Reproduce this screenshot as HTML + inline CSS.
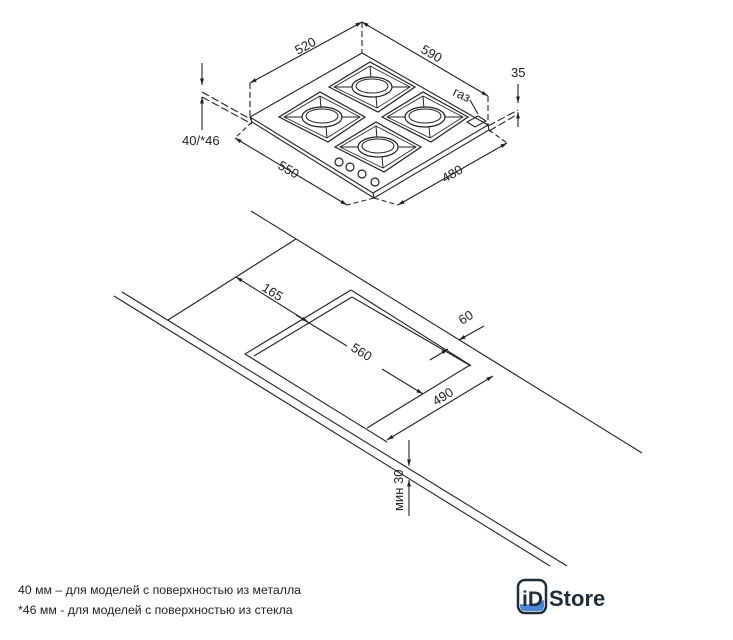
<!DOCTYPE html>
<html><head><meta charset="utf-8"><style>
html,body{margin:0;padding:0;background:#fff;}
body{width:733px;height:640px;position:relative;overflow:hidden;font-family:"Liberation Sans",sans-serif;}
svg{position:absolute;left:0;top:0;}
.t{font-family:"Liberation Sans",sans-serif;font-size:13px;fill:#222;}
</style></head><body>
<svg width="733" height="640" viewBox="0 0 733 640">
<defs>
<marker id="a" viewBox="0 0 10 10" refX="10" refY="5" markerWidth="6" markerHeight="6" orient="auto-start-reverse"><path d="M0,2 L10,5 L0,8z" fill="#222"/></marker>
<g id="burner">
<polygon points="-43,0 -2,-25 43,0 6,25" fill="none" stroke="#222" stroke-width="1.2"/>
<polygon points="-38,0 -2,-21 38,0 5,21" fill="none" stroke="#222" stroke-width="0.8"/>
<line x1="-2" y1="-21" x2="-1" y2="-8" stroke="#222"/><line x1="5" y1="21" x2="4" y2="9" stroke="#222"/>
<line x1="-38" y1="0" x2="-20" y2="0" stroke="#222"/><line x1="38" y1="0" x2="20" y2="0" stroke="#222"/>
<ellipse cx="0" cy="0" rx="20" ry="10" fill="#fff" stroke="#222" stroke-width="1.2"/>
<ellipse cx="0" cy="-1" rx="16" ry="7" fill="none" stroke="#222" stroke-width="1"/>
</g>
</defs>
<g stroke="#222" stroke-width="1.1" fill="none">
<polygon points="362,53 250,117 373,193 488,125"/>
<polyline points="250,117 252,122 374,198 489,130 488,125"/>
<line x1="373" y1="193" x2="374" y2="198"/>
<polygon points="467,122 478,116 486,121 475,127"/>
<line x1="470" y1="100" x2="478" y2="114"/>
<line x1="250" y1="83" x2="362" y2="22" marker-start="url(#a)" marker-end="url(#a)"/>
<line x1="362" y1="22" x2="488" y2="96" marker-start="url(#a)" marker-end="url(#a)"/>
<line x1="250" y1="83" x2="250" y2="117" stroke-dasharray="6,3"/>
<line x1="362" y1="22" x2="362" y2="53" stroke-dasharray="6,3"/>
<line x1="488" y1="96" x2="488" y2="125" stroke-dasharray="6,3"/>
<line x1="235" y1="138" x2="347" y2="205" marker-start="url(#a)" marker-end="url(#a)"/>
<line x1="398" y1="205" x2="507" y2="143" marker-start="url(#a)" marker-end="url(#a)"/>
<line x1="252" y1="122" x2="235" y2="138" stroke-dasharray="5,3"/>
<line x1="374" y1="198" x2="347" y2="205" stroke-dasharray="5,3"/>
<line x1="374" y1="198" x2="398" y2="205" stroke-dasharray="5,3"/>
<line x1="489" y1="130" x2="507" y2="143" stroke-dasharray="5,3"/>
<line x1="202" y1="63" x2="202" y2="85" marker-end="url(#a)"/>
<line x1="202" y1="130" x2="202" y2="97" marker-end="url(#a)"/>
<line x1="202" y1="92" x2="252" y2="120" stroke-dasharray="8,3"/>
<line x1="202" y1="97" x2="252" y2="124" stroke-dasharray="8,3"/>
<line x1="518" y1="84" x2="518" y2="103" marker-end="url(#a)"/>
<line x1="518" y1="127" x2="518" y2="112" marker-end="url(#a)"/>
<line x1="488" y1="126" x2="518" y2="110" stroke-dasharray="8,3"/>
<line x1="489" y1="131" x2="518" y2="114" stroke-dasharray="8,3"/>
</g>
<use href="#burner" x="372" y="87"/>
<use href="#burner" x="322" y="117"/>
<use href="#burner" x="425" y="117"/>
<use href="#burner" x="378" y="147"/>
<g fill="#fff" stroke="#222" stroke-width="1.2">
<circle cx="339" cy="162" r="4"/><circle cx="350" cy="167" r="4"/><circle cx="362" cy="174" r="4"/><circle cx="375" cy="182" r="4"/>
</g>
<g class="t">
<text transform="translate(298,55) rotate(-29)">520</text>
<text transform="translate(420,52) rotate(30)">590</text>
<text transform="translate(277,168) rotate(30)">550</text>
<text transform="translate(445,183) rotate(-30)">480</text>
<text transform="translate(452,95) rotate(25)">газ</text>
<text x="511" y="77">35</text>
<text x="182" y="145">40/*46</text>
</g>
<g stroke="#222" stroke-width="1.1" fill="none">
<line x1="251" y1="211" x2="642" y2="453"/>
<line x1="114" y1="296" x2="550" y2="566"/>
<line x1="122" y1="292" x2="567" y2="566"/>
<line x1="296" y1="239" x2="168" y2="320"/>
<polyline points="351,290 245,354 387,442"/>
<polyline points="351,290 470,365 367,428"/>
<polyline points="352,297 254,356"/>
<polyline points="352,297 471,366"/>
<line x1="236" y1="277" x2="308" y2="322" marker-start="url(#a)" marker-end="url(#a)"/>
<line x1="296" y1="315" x2="347" y2="346"/>
<line x1="382" y1="369" x2="423" y2="394" marker-end="url(#a)"/>
<line x1="484" y1="326" x2="459" y2="340" marker-end="url(#a)"/>
<line x1="430" y1="360" x2="448" y2="349" marker-end="url(#a)"/>
<line x1="387" y1="440" x2="493" y2="376" marker-start="url(#a)" marker-end="url(#a)"/>
<line x1="409" y1="440" x2="409" y2="466" marker-end="url(#a)"/>
<line x1="409" y1="516" x2="409" y2="480" marker-end="url(#a)"/>
</g>
<g class="t">
<text transform="translate(261,290) rotate(32)">165</text>
<text transform="translate(350,350) rotate(32)">560</text>
<text transform="translate(462,325) rotate(-32)">60</text>
<text transform="translate(436,406) rotate(-32)">490</text>
<text transform="translate(403,511) rotate(-90)">мин 30</text>
<text x="18" y="594" font-size="12.3">40 мм – для моделей с поверхностью  из металла</text>
<text x="18" y="614" font-size="12.3">*46 мм - для моделей с поверхностью  из стекла</text>
</g>
<rect x="518" y="580" width="28" height="33" rx="7" fill="#fff" stroke="#1f2d3d" stroke-width="2.5"/>
<path d="M520,604 Q530,606 544,600 L544,606 Q544,611 539,611 L525,611 Q520,611 520,606z" fill="#4a86d8"/>
<text x="522" y="606" font-family="Liberation Sans" font-weight="bold" font-size="21" fill="#1f2d3d">iD</text>
<text x="549" y="606" font-family="Liberation Sans" font-weight="bold" font-size="22" fill="#1f2d3d">Store</text>
</svg>
</body></html>
